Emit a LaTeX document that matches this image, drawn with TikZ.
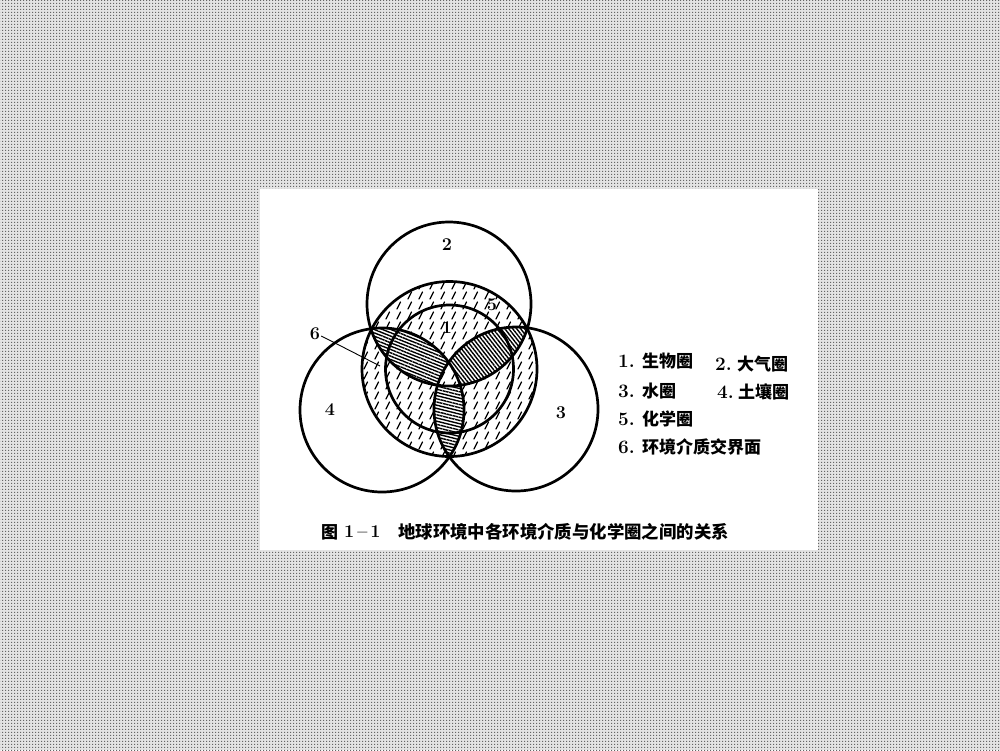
\documentclass[tikz,border=0pt]{standalone}
\usepackage{fontspec}
\newfontfamily\cjk{Noto Sans CJK SC}
\usetikzlibrary{patterns,patterns.meta}
\pgfdeclarepatternformonly{bgdots}{\pgfqpoint{0pt}{0pt}}{\pgfqpoint{3pt}{3pt}}{\pgfqpoint{3pt}{3pt}}{%
  \pgfpathrectangle{\pgfqpoint{0pt}{0pt}}{\pgfqpoint{1.5pt}{1.5pt}}\pgfusepath{fill}}
\pgfdeclarepatternformonly{slashdash}{\pgfqpoint{-1pt}{-1pt}}{\pgfqpoint{12pt}{11pt}}{\pgfqpoint{11pt}{10pt}}{%
  \pgfsetlinewidth{1.3pt}\pgfsetroundcap
  \pgfpathmoveto{\pgfqpoint{1pt}{1pt}}\pgfpathlineto{\pgfqpoint{4.5pt}{8pt}}\pgfusepath{stroke}}
\tikzset{
  ring/.style={line width=2.7pt,draw=black},
  num/.style={font=\fontsize{18}{18}\selectfont\bfseries,inner sep=0pt},
  legnum/.style={font=\fontsize{19}{19}\selectfont\bfseries,inner sep=0pt,anchor=west},
  legtxt/.style={font=\fontsize{17}{17}\selectfont\cjk\bfseries,inner sep=0pt,anchor=west},
  petal/.style={pattern={Lines[angle=#1,distance=3.1pt,line width=1.4pt]},pattern color=black}
}
\begin{document}
\begin{tikzpicture}[x=1pt,y=-1pt]
\useasboundingbox (0,0) rectangle (1000,750);
\fill[gray!22] (0,0) rectangle (1000,750);
\fill[pattern=bgdots,pattern color=black!60] (0,0) rectangle (1000,750);
\fill[white] (260,189) rectangle (818,550);
% coordinates
\coordinate (c2) at (449,304);
\coordinate (c4) at (382,410);
\coordinate (c3) at (516,409);
\coordinate (c5) at (449.5,369);
% chemistry sphere with dashed hatch
\fill[white] (c5) circle (87.5);
\fill[pattern=slashdash,pattern color=black] (c5) circle (87.5);
% petals: pairwise overlaps outside the third circle
\begin{scope}
  \clip (c5) circle (87.5);
  \begin{scope}
    \clip (c2) circle (82);
    \clip (c4) circle (82);
    \begin{scope}[even odd rule]
      \clip (c3) circle (82) (0,0) rectangle (1000,750);
      \fill[white] (c2) circle (82);
      \fill[petal=-22] (c2) circle (82);
    \end{scope}
  \end{scope}
  \begin{scope}
    \clip (c2) circle (82);
    \clip (c3) circle (82);
    \begin{scope}[even odd rule]
      \clip (c4) circle (82) (0,0) rectangle (1000,750);
      \fill[white] (c2) circle (82);
      \fill[petal=-52] (c2) circle (82);
    \end{scope}
  \end{scope}
  \begin{scope}
    \clip (c3) circle (82);
    \clip (c4) circle (82);
    \begin{scope}[even odd rule]
      \clip (c2) circle (82) (0,0) rectangle (1000,750);
      \fill[white] (c3) circle (82);
      \fill[petal=-14] (c3) circle (82);
    \end{scope}
  \end{scope}
\end{scope}
% outlines
\draw[ring] (c5) circle (64);
\draw[ring] (c5) circle (87.5);
\draw[ring] (c2) circle (82);
\draw[ring] (c4) circle (82);
\draw[ring] (c3) circle (82);
% labels
\node[num] (l2) at (447,245) {2};
\node[num] (l1) at (447,328) {1};
\node[num] (l5) at (492,305) {5};
\node[num] (l4) at (330,410) {4};
\node[num] (l3) at (561,413) {3};
\node[num] (l6) at (315,334) {6};
\coordinate (p6) at (380,366);
\draw[line width=0.9pt] (l6.east) ++(1,2) -- (p6);
% legend
\node[legnum] (n1) at (618,361) {1.};
\node[legtxt] (t1) at (642,361) {生物圈};
\node[legnum] (n2) at (715,364) {2.};
\node[legtxt] (t2) at (737,364) {大气圈};
\node[legnum] (n3) at (618,391) {3.};
\node[legtxt] (t3) at (642,391) {水圈};
\node[legnum] (n4) at (717,392) {4.};
\node[legtxt] (t4) at (738,392) {土壤圈};
\node[legnum] (n5) at (618,419) {5.};
\node[legtxt] (t5) at (642,419) {化学圈};
\node[legnum] (n6) at (618,447) {6.};
\node[legtxt] (t6) at (642,447) {环境介质交界面};
% caption
\node[legtxt] (cap1) at (321,532) {图};
\node[legnum,font=\fontsize{18}{18}\selectfont\bfseries] (cap2) at (344,532) {1\,--\,1};
\node[legtxt,font=\fontsize{17.4}{17.4}\selectfont\cjk\bfseries] (cap3) at (398,532) {地球环境中各环境介质与化学圈之间的关系};
\end{tikzpicture}
\end{document}
